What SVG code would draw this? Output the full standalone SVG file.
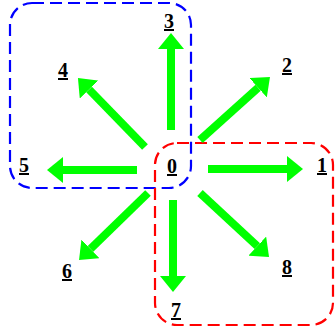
<svg xmlns="http://www.w3.org/2000/svg" width="335" height="331" viewBox="0 0 335 331">
  <style>
    .grp { fill: none; stroke-width: 2.2; stroke-dasharray: 12 6; }
    .blue { stroke: #0000ff; }
    .red { stroke: #ff0000; }
    .arrow { stroke: #00ff00; stroke-width: 8; fill: none; marker-end: url(#head); }
    .lbl { font-family: "Liberation Serif", "Times New Roman", serif; font-weight: bold; font-size: 20px; text-decoration: underline; text-anchor: middle; fill: #000; }
  </style>
  <defs>
    <marker id="head" viewBox="0 0 16 26" refX="0" refY="13" markerWidth="16" markerHeight="26" markerUnits="userSpaceOnUse" orient="auto">
      <path d="M0,0 L16,13 L0,26 Z" fill="#00ff00"/>
    </marker>
  </defs>

  <g id="regions">
    <rect class="grp blue" x="10" y="3" width="181" height="185" rx="22"/>
    <rect class="grp red" x="155" y="143" width="178" height="182" rx="22"/>
  </g>

  <g id="connectors">
    <line class="arrow" x1="208" y1="169" x2="287" y2="169"/>
    <line class="arrow" x1="200" y1="140" x2="258.1" y2="87.7"/>
    <line class="arrow" x1="171" y1="130" x2="171" y2="49"/>
    <line class="arrow" x1="145" y1="147" x2="89.1" y2="89.5"/>
    <line class="arrow" x1="137" y1="170" x2="63" y2="170"/>
    <line class="arrow" x1="148" y1="193" x2="90.5" y2="248.9"/>
    <line class="arrow" x1="173" y1="200" x2="173" y2="276"/>
    <line class="arrow" x1="200" y1="193" x2="257.3" y2="246.1"/>
  </g>

  <g id="n0"><text class="lbl" x="172" y="173">0</text></g>
  <g id="n1"><text class="lbl" x="322" y="172">1</text></g>
  <g id="n2"><text class="lbl" x="287" y="72">2</text></g>
  <g id="n3"><text class="lbl" x="169" y="28">3</text></g>
  <g id="n4"><text class="lbl" x="63" y="77">4</text></g>
  <g id="n5"><text class="lbl" x="24" y="172">5</text></g>
  <g id="n6"><text class="lbl" x="67" y="278">6</text></g>
  <g id="n7"><text class="lbl" x="176" y="317">7</text></g>
  <g id="n8"><text class="lbl" x="287" y="274">8</text></g>
</svg>
